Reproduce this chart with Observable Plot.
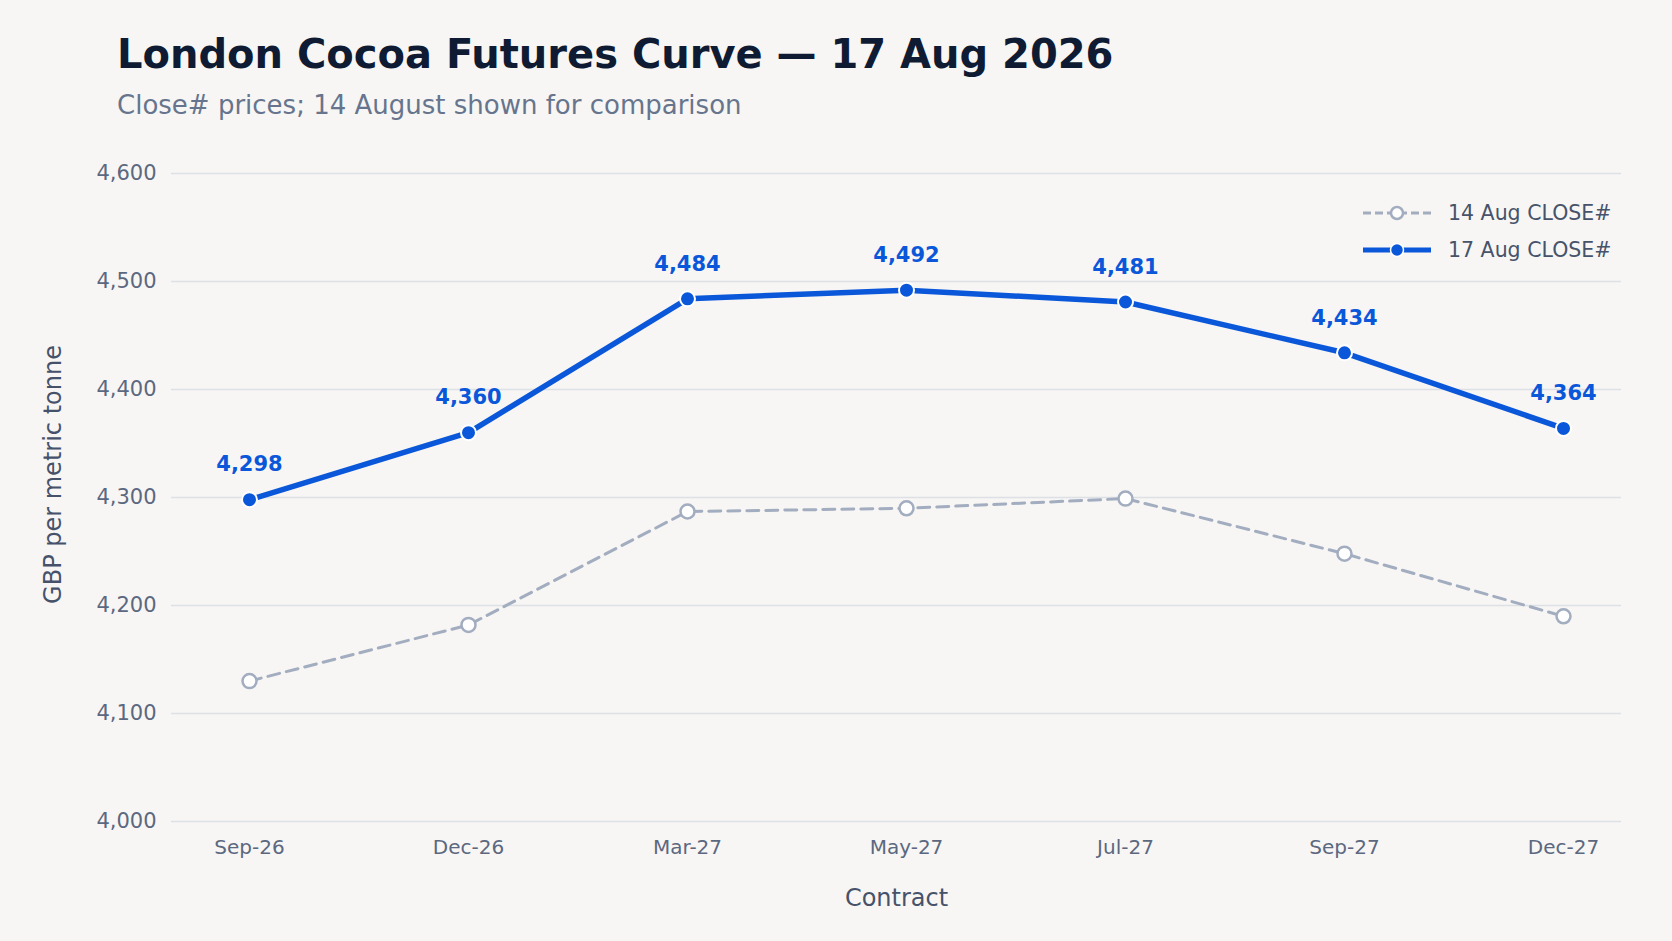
<!DOCTYPE html>
<html>
<head>
<meta charset="utf-8">
<script src="https://cdn.jsdelivr.net/npm/d3@7"></script>
<script src="https://cdn.jsdelivr.net/npm/@observablehq/plot@0.6"></script>
<style>
  body { margin: 0; background: #f7f6f4; font-family: "DejaVu Sans", sans-serif; }
  #wrap { position: relative; width: 1672px; height: 941px; overflow: hidden; }
  #title { position: absolute; left: 117px; top: 34px; font-size: 40px; line-height: 40px; font-weight: bold; color: #0f1b33; white-space: nowrap; }
  #subtitle { position: absolute; left: 117px; top: 92px; font-size: 26px; line-height: 26px; color: #66758d; white-space: nowrap; }
  #chart { position: absolute; left: 0; top: 130px; }
  #legend { position: absolute; left: 1363px; top: 194px; font-size: 20.5px; color: #46536a; }
  .row { display: flex; align-items: center; height: 37px; }
  .row svg { margin-right: 17px; }
</style>
</head>
<body>
<div id="wrap">
  <div id="title">London Cocoa Futures Curve — 17 Aug 2026</div>
  <div id="subtitle">Close# prices; 14 August shown for comparison</div>
  <div id="chart"></div>
  <div id="legend"></div>
</div>
<script>
const contracts = ["Sep-26", "Dec-26", "Mar-27", "May-27", "Jul-27", "Sep-27", "Dec-27"];
const close17Aug = [4298, 4360, 4484, 4492, 4481, 4434, 4364];
const close14Aug = [4130, 4182, 4287, 4290, 4299, 4248, 4190];
const yTicks = [4000, 4100, 4200, 4300, 4400, 4500, 4600];
const seriesNames = ["14 Aug CLOSE#", "17 Aug CLOSE#"];
const yLabel = "GBP per metric tonne";
const xLabel = "Contract";

const blue = "#0b57d9";
const gray = "#a3adc0";

const d14 = contracts.map((c, i) => ({contract: c, value: close14Aug[i]}));
const d17 = contracts.map((c, i) => ({contract: c, value: close17Aug[i]}));

const chart = Plot.plot({
  width: 1672,
  height: 811,
  marginTop: 43,
  marginBottom: 120,
  marginLeft: 171,
  marginRight: 51,
  style: {background: "transparent", fontFamily: "DejaVu Sans, sans-serif", color: "#5b6880"},
  x: {type: "point", domain: contracts, padding: 0.31, align: 0.57},
  y: {domain: [4000, 4600]},
  marks: [
    Plot.gridY(yTicks, {stroke: "#dde0e5", strokeOpacity: 1, strokeWidth: 1.5}),
    Plot.axisY(yTicks, {tickSize: 0, tickPadding: 15, tickFormat: d3.format(","), fontSize: 21, label: null}),
    Plot.axisX({tickSize: 0, tickPadding: 18, fontSize: 20, label: null}),
    Plot.text([xLabel], {frameAnchor: "bottom", dy: 84, fontSize: 24, fill: "#46526a"}),
    Plot.text([yLabel], {frameAnchor: "left", textAnchor: "middle", rotate: -90, dx: -118, dy: -23, fontSize: 24, fill: "#46526a"}),
    Plot.line(d14, {x: "contract", y: "value", stroke: gray, strokeWidth: 3, strokeDasharray: "12,7"}),
    Plot.dot(d14, {x: "contract", y: "value", r: 7, fill: "#ffffff", stroke: gray, strokeWidth: 2.5}),
    Plot.line(d17, {x: "contract", y: "value", stroke: blue, strokeWidth: 5.5}),
    Plot.dot(d17, {x: "contract", y: "value", r: 7.5, fill: blue, stroke: "#ffffff", strokeWidth: 2}),
    Plot.text(d17, {x: "contract", y: "value", text: d => d3.format(",")(d.value), dy: -35, fontSize: 21, fontWeight: "bold", fill: blue})
  ]
});
document.getElementById("chart").appendChild(chart);

// legend
const legend = document.getElementById("legend");
const styles = [
  {stroke: gray, dash: "8,4", width: 3, fill: "#ffffff", r: 6, dotStroke: gray, dotWidth: 2.5},
  {stroke: blue, dash: null, width: 5, fill: blue, r: 6.5, dotStroke: "#ffffff", dotWidth: 1.5}
];
seriesNames.forEach((name, i) => {
  const s = styles[i];
  const row = document.createElement("div");
  row.className = "row";
  row.innerHTML = `<svg width="68" height="20"><line x1="0" x2="68" y1="10" y2="10" stroke="${s.stroke}" stroke-width="${s.width}" ${s.dash ? `stroke-dasharray="${s.dash}"` : ""}/><circle cx="34" cy="10" r="${s.r}" fill="${s.fill}" stroke="${s.dotStroke}" stroke-width="${s.dotWidth}"/></svg><span>${name}</span>`;
  legend.appendChild(row);
});
</script>
</body>
</html>
